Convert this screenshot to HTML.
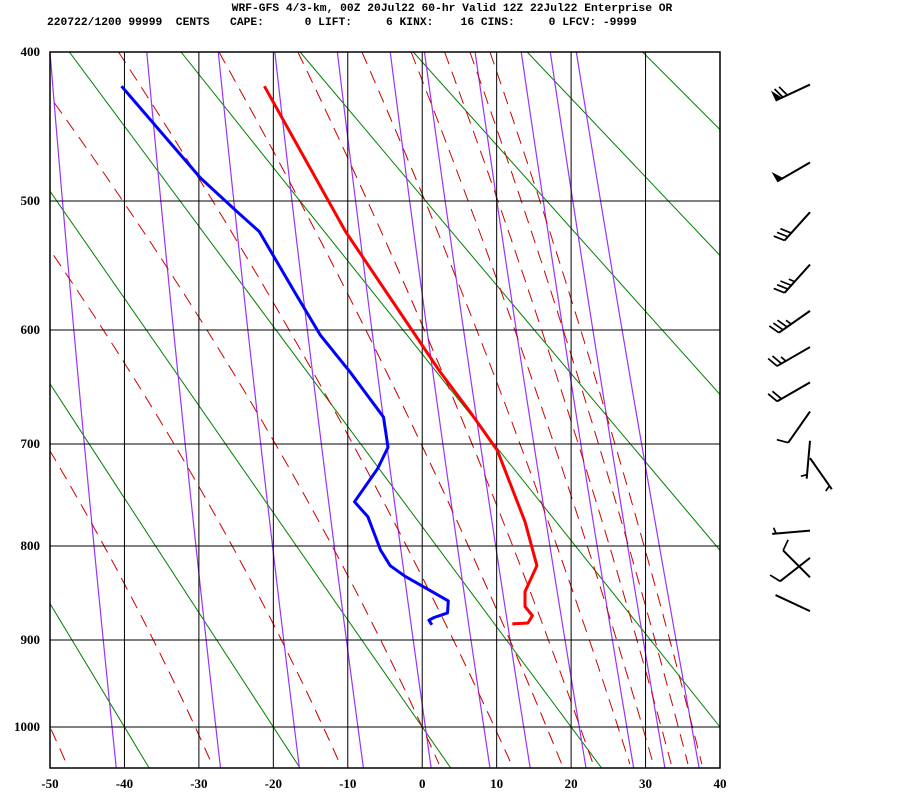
<!DOCTYPE html>
<html><head><meta charset="utf-8"><style>
body{margin:0;background:#fff}
svg{display:block}
.hdr{font-family:"Liberation Mono",monospace;font-weight:bold;font-size:11.3px;white-space:pre}
.lbl{font-family:"Liberation Serif",serif;font-weight:bold;font-size:13px}
</style></head><body>
<svg id="c" width="900" height="800" viewBox="0 0 900 800">
<text class="hdr" x="452" y="11" text-anchor="middle">WRF-GFS 4/3-km, 00Z 20Jul22 60-hr Valid 12Z 22Jul22 Enterprise OR</text>
<text class="hdr" x="47" y="25">220722/1200 99999  CENTS   CAPE:      0 LIFT:     6 KINX:    16 CINS:     0 LFCV: -9999</text>
<g id="bg"></g>
<g id="grid"></g>
<g id="prof"></g>
<g id="barbs"></g>
<g id="labels"></g>
</svg>
<script>
// data
const pLevels = [400,500,600,700,800,900,1000];
const xTicks = [-50,-40,-30,-20,-10,0,10,20,30,40];
const tempP = [421,522,635,670,706,775,820,847,863,873,881,882];
const tempT = [-21.2,-10.3,2.4,6.4,10.1,13.8,15.4,13.8,13.8,14.8,14.2,12.1];
const dewP = [421,483,507,522,569,604,635,675,703,723,755,770,804,820,831,847,857,870,875,878,883];
const dewT = [-40.4,-29.8,-25,-21.9,-17.1,-13.7,-9.7,-5.2,-4.6,-6,-9.1,-7.3,-5.6,-4.3,-2.3,1.3,3.5,3.4,1.6,0.9,1.3];
const greenT1000 = [-40,-20,0,20,40,60,80,100,120];
const greenT400 = [-94.7,-79,-63,-47.4,-32.4,-16.4,-1.2,14.1,29.6];
const purpleTopT = [-50,-37,-27.4,-19.8,-11.4,-4.3,0.3,7.1,13.3,17.2,20.7];
const purpleBotT = [-41.1,-27.1,-16.5,-7.9,1.2,9.1,14.5,22,28.4,32.6,37.2];
const redT1000 = [-50,-30.5,-13.3,0,9.7,16.7,21.2,26.3,29.6,32.1,34.4,36.3];
const redT400 = [-106.1,-86.8,-69.5,-54.4,-40.8,-27.3,-16.7,-8.1,-1.5,3.0,6.4,9.1];
const barbP = [420,472,508,547,584,614,644,670,697,713,784,812,832,868];
const barbDir = [245,240,222,222,235,240,240,215,185,145,265,232,315,295];
const barbSpd = [70,50,30,35,35,25,20,10,5,5,5,10,10,2];

const NS='http://www.w3.org/2000/svg';
const X0=50,X1=720,Y0=52,YB=768;
const pY=[52,201,330,444,546,640,727];
function y(p){
  for(let i=0;i<pLevels.length-1;i++){
    if(p<=pLevels[i+1]||i==pLevels.length-2){
      const a=Math.log(pLevels[i]),b=Math.log(pLevels[i+1]);
      return pY[i]+(Math.log(p)-a)/(b-a)*(pY[i+1]-pY[i]);
    }
  }
}
function x(t){return X0+(t+50)/90*(X1-X0);}
function mk(tag,attrs,parent){const e=document.createElementNS(NS,tag);for(const k in attrs)e.setAttribute(k,attrs[k]);parent.appendChild(e);return e;}
const svg=document.getElementById('c');
const bg=document.getElementById('bg'),grid=document.getElementById('grid'),prof=document.getElementById('prof'),barbs=document.getElementById('barbs'),labels=document.getElementById('labels');
const cp=mk('clipPath',{id:'clip'},svg);
mk('rect',{x:X0,y:Y0,width:X1-X0,height:YB-Y0},cp);
bg.setAttribute('clip-path','url(#clip)');prof.setAttribute('clip-path','url(#clip)');
const y400=y(400),y1000=y(1000);
// green lines
greenT1000.forEach((t,i)=>{
  const xa=x(greenT400[i]),xb=x(t);const s=(xb-xa)/(y1000-y400);
  const l=mk('line',{x1:xa,y1:y400,x2:xb+s*(YB-y1000),y2:YB,stroke:'#008000','stroke-width':1},bg);
  
  
});
// purple lines
purpleTopT.forEach((t,i)=>{
  const xa=x(t),xb=x(purpleBotT[i]);
  const d=`M${xa},${Y0} Q${(xa+xb)/2-4},${(Y0+YB)/2} ${xb},${YB}`;
  const l=mk('path',{d:d,stroke:'#9933ff',fill:'none','stroke-width':1.2},bg);
  
  
});
// red dashed
redT1000.forEach((t,i)=>{
  const xb=x(t),xa=x(redT400[i]);const H=y1000-y400;
  const avg=(xb-xa)/H;
  const s0=Math.min(0.46,avg*0.85);
  const c=((xb-xa)-s0*H)/(H*H);
  let pts=[];
  for(let yy=Y0;yy<=YB;yy+=8){const d=y1000-yy;pts.push([xb-s0*d-c*d*d,yy]);}
  const l=mk('polyline',{points:pts.map(q=>q[0].toFixed(1)+','+q[1]).join(' '),stroke:'#cc0000',fill:'none','stroke-width':1,'stroke-dasharray':'13,8'},bg);
  
  
});
// grid
xTicks.forEach(t=>{
  const l=mk('line',{x1:x(t),y1:Y0,x2:x(t),y2:YB,stroke:'#000','stroke-width':1},grid);
  
  
  const tx=mk('text',{x:x(t),y:788,'text-anchor':'middle',class:'lbl'},labels);tx.textContent=t;
  
  
});
pLevels.forEach(p=>{
  const l=mk('line',{x1:X0,y1:y(p),x2:X1,y2:y(p),stroke:'#000','stroke-width':1},grid);
  
  
  const tx=mk('text',{x:40,y:y(p)+4,'text-anchor':'end',class:'lbl'},labels);tx.textContent=p;
  
  
});
const fr=mk('rect',{x:X0,y:Y0,width:X1-X0,height:YB-Y0,fill:'none',stroke:'#000','stroke-width':1.5},grid);


// profiles
const tl=mk('polyline',{points:tempP.map((p,i)=>x(tempT[i]).toFixed(1)+','+y(p).toFixed(1)).join(' '),stroke:'#ff0000',fill:'none','stroke-width':3,'stroke-linejoin':'round'},prof);


const dl=mk('polyline',{points:dewP.map((p,i)=>x(dewT[i]).toFixed(1)+','+y(p).toFixed(1)).join(' '),stroke:'#0000ff',fill:'none','stroke-width':3,'stroke-linejoin':'round'},prof);


// barbs
barbP.forEach((p,i)=>{
  const g=mk('g',{},barbs);
  
  
  const sx=810,sy=y(p),L=38;
  const a=barbDir[i]*Math.PI/180;const ux=Math.sin(a),uy=-Math.cos(a);
  const ex=sx+ux*L,ey=sy+uy*L;
  mk('line',{x1:sx,y1:sy,x2:ex,y2:ey,stroke:'#000','stroke-width':2},g);
  const px=-uy,py=ux;
  let spd=barbSpd[i],pos=0;
  const at=k=>[ex-ux*k,ey-uy*k];
  while(spd>=50){const [bx,by]=at(pos),[cx,cy]=at(pos+7);
    mk('polygon',{points:`${bx},${by} ${cx},${cy} ${bx+px*11},${by+py*11}`,fill:'#000'},g);pos+=8;spd-=50;}
  while(spd>=10){const [bx,by]=at(pos);mk('line',{x1:bx,y1:by,x2:bx+px*11+ux*4,y2:by+py*11+uy*4,stroke:'#000','stroke-width':1.7},g);pos+=5;spd-=10;}
  if(spd>=5){if(pos==0)pos=4;const [bx,by]=at(pos);mk('line',{x1:bx,y1:by,x2:bx+px*6+ux*2,y2:by+py*6+uy*2,stroke:'#000','stroke-width':1.7},g);}
});
</script>
</body></html>
